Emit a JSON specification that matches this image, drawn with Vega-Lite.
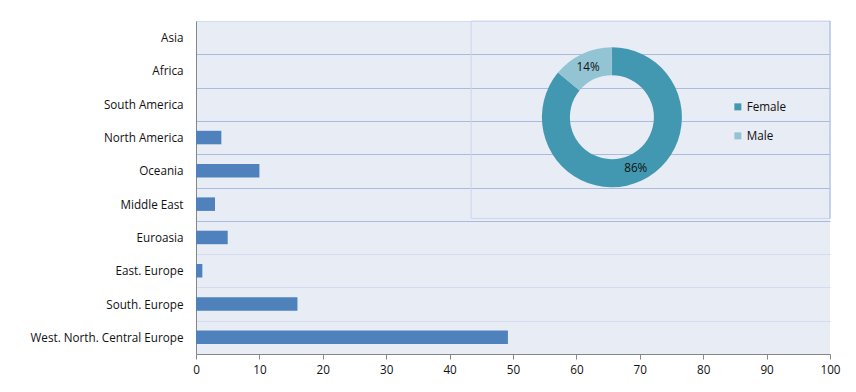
{
  "$schema": "https://vega.github.io/schema/vega-lite/v6.json",
  "width": 634,
  "height": 333,
  "padding": {"left": 10, "top": 16, "right": 5, "bottom": 5},
  "background": "white",
  "config": {
    "font": "Open Sans",
    "view": {"fill": "#E8ECF4", "stroke": null},
    "axis": {"labelFont": "Open Sans", "labelFontSize": 11.7, "labelColor": "#111111", "domainColor": "#868686", "tickColor": "#868686", "title": null},
    "legend": {"labelFont": "Open Sans", "labelFontSize": 11.7, "labelColor": "#111111"}
  },
  "datasets": {
    "regions": [
      {"region": "Asia", "value": 0},
      {"region": "Africa", "value": 0},
      {"region": "South America", "value": 0},
      {"region": "North America", "value": 4},
      {"region": "Oceania", "value": 10},
      {"region": "Middle East", "value": 3},
      {"region": "Euroasia", "value": 5},
      {"region": "East. Europe", "value": 1},
      {"region": "South. Europe", "value": 16},
      {"region": "West. North. Central Europe", "value": 49.2}
    ],
    "gender": [
      {"gender": "Female", "share": 0.86},
      {"gender": "Male", "share": 0.14}
    ]
  },
  "layer": [
    {
      "data": {"name": "regions"},
      "mark": {"type": "bar", "color": "#4F81BD", "size": 13.5},
      "encoding": {
        "y": {
          "field": "region", "type": "nominal", "sort": null,
          "scale": {"paddingInner": 0, "paddingOuter": 0},
          "axis": {
            "ticks": false, "labelPadding": 13, "minExtent": 186, "maxExtent": 186,
            "grid": true, "tickBand": "extent", "gridOpacity": 1,
            "gridColor": {"condition": {"test": "indexof(['Asia','Africa','South America','North America','Oceania','Middle East'], datum.value) >= 0", "value": "#A9BCE0"}, "value": "#D3DBEE"}
          }
        },
        "x": {
          "field": "value", "type": "quantitative",
          "scale": {"domain": [0, 100]},
          "axis": {"grid": false, "values": [0, 10, 20, 30, 40, 50, 60, 70, 80, 90, 100], "tickSize": 5, "labelPadding": 5, "labelFlush": false}
        }
      }
    },
    {
      "layer": [
        {
          "data": {"values": [{}]},
          "mark": {"type": "rect", "fill": null, "stroke": "#CCD6EC", "strokeWidth": 1},
          "encoding": {
            "x": {"datum": 43.4, "type": "quantitative"},
            "x2": {"datum": 100},
            "y": {"datum": 0, "type": "quantitative", "scale": {"domain": [0, 10], "reverse": true}, "axis": null},
            "y2": {"datum": 5.93}
          }
        },
        {
          "data": {"values": [{}]},
          "mark": {"type": "rule", "stroke": "#A9BCE0", "strokeWidth": 1},
          "encoding": {
            "x": {"datum": 100, "type": "quantitative"},
            "y": {"datum": 0, "type": "quantitative", "axis": null},
            "y2": {"datum": 5.93}
          }
        },
        {
          "data": {"name": "gender"},
          "mark": {"type": "arc", "radius": 70, "radius2": 42},
          "encoding": {
            "theta": {"field": "share", "type": "quantitative", "stack": true},
            "order": {"field": "share", "type": "quantitative", "sort": "descending"},
            "color": {
              "field": "gender", "type": "nominal",
              "scale": {"domain": ["Female", "Male"], "range": ["#4298B0", "#93C4D4"]},
              "legend": {"title": null, "orient": "none", "legendX": 536, "legendY": 80, "symbolType": "square", "symbolSize": 49, "symbolStrokeWidth": 0, "rowPadding": 16, "padding": 0, "labelOffset": 3}
            },
            "x": {"datum": 65.6, "type": "quantitative"},
            "y": {"datum": 2.89, "type": "quantitative", "axis": null}
          }
        },
        {
          "data": {"name": "gender"},
          "mark": {"type": "text", "radius": 56, "fontSize": 11.7, "color": "#111111", "font": "Open Sans"},
          "encoding": {
            "theta": {"field": "share", "type": "quantitative", "stack": true},
            "order": {"field": "share", "type": "quantitative", "sort": "descending"},
            "detail": {"field": "gender", "type": "nominal"},
            "text": {"field": "share", "type": "quantitative", "format": ".0%"},
            "x": {"datum": 65.6, "type": "quantitative"},
            "y": {"datum": 2.89, "type": "quantitative", "axis": null}
          }
        }
      ]
    }
  ],
  "resolve": {"scale": {"y": "independent"}}
}
